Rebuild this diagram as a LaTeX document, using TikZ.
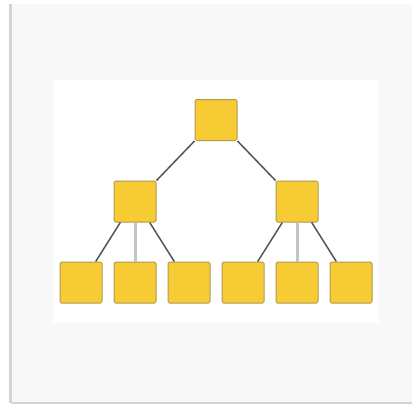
\documentclass[tikz,border=0pt]{standalone}
\usetikzlibrary{positioning}
\definecolor{orgpanel}{HTML}{F8F8F8}
\definecolor{orgrule}{HTML}{D4D4D4}
\definecolor{orgfill}{HTML}{F7CB33}
\definecolor{orgedge}{HTML}{B09A52}
\definecolor{orglink}{HTML}{555555}
\definecolor{orgstem}{HTML}{C4C4C4}

\begin{document}
\begin{tikzpicture}[x=1pt,y=-1pt]
\tikzset{unit/.style={draw=orgedge,fill=orgfill,line width=1pt,rounded corners=1.5pt,minimum width=42pt,minimum height=41pt,inner sep=0pt},
  link/.style={orglink,line width=1.5pt},
  stem/.style={orgstem,line width=3pt}}
\useasboundingbox (0,0) rectangle (412,405);
% panel and card
\fill[orgpanel] (11,4) rectangle (412,403);
\draw[orgrule,line width=2.5pt] (10.5,4) -- (10.5,403);
\draw[orgrule,line width=1.5pt] (11,403) -- (412,403);
\fill[white] (53,80) rectangle (379,323);
% tree
\node[unit] (root) at (216,120) {};
\node[unit] (midl) at (135,201.5) {};
\node[unit] (midr) at (297,201.5) {};
\node[unit] (leafa) at (81,282.5) {};
\node[unit,right=11pt of leafa] (leafb) {};
\node[unit,right=11pt of leafb] (leafc) {};
\node[unit,right=11pt of leafc] (leafd) {};
\node[unit,right=11pt of leafd] (leafe) {};
\node[unit,right=11pt of leafe] (leaff) {};
\draw[link] (root.south west) -- (midl.north east);
\draw[link] (root.south east) -- (midr.north west);
\draw[link] (midl.235) -- (leafa.55);
\draw[stem] (midl.south) -- (leafb.north);
\draw[link] (midl.305) -- (leafc.125);
\draw[link] (midr.235) -- (leafd.55);
\draw[stem] (midr.south) -- (leafe.north);
\draw[link] (midr.305) -- (leaff.125);
\end{tikzpicture}
\end{document}
